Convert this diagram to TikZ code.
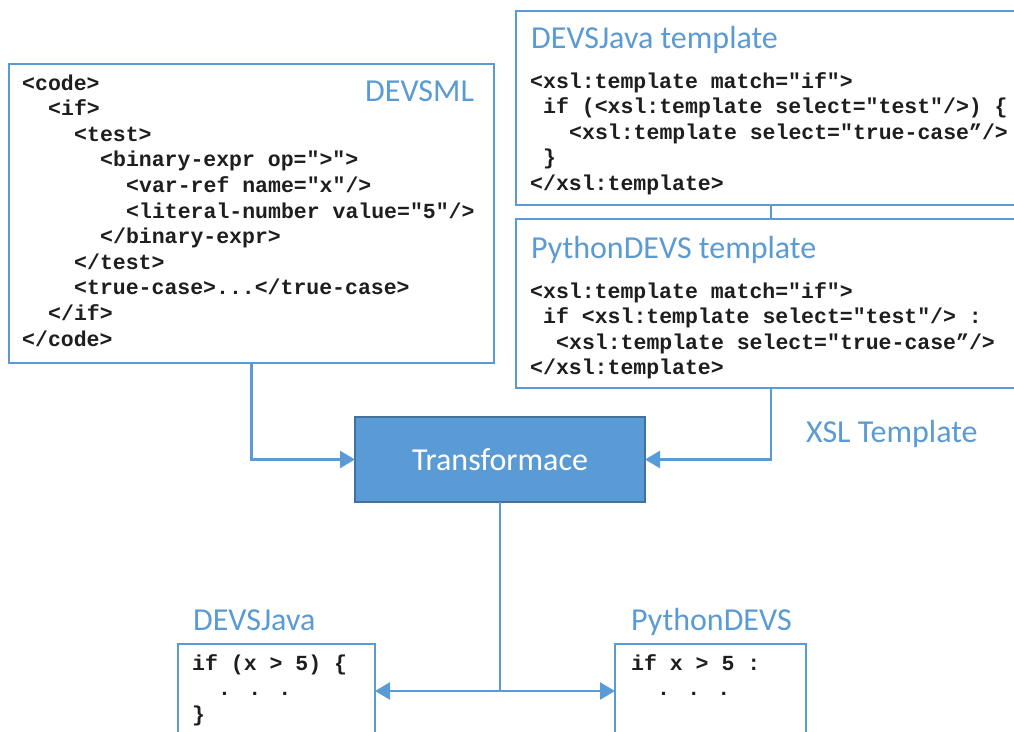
\documentclass[tikz,border=0pt]{standalone}
\usepackage{fontspec}
\usetikzlibrary{arrows.meta,calc}
\newfontfamily\codefnt{Liberation Mono}
\newfontfamily\lblfnt{Carlito}
\definecolor{blueone}{HTML}{5B9BD5}
\definecolor{bluedark}{HTML}{41719C}
\definecolor{codecol}{HTML}{1E1E1E}
\tikzset{
  box/.style={draw=blueone, line width=2.5pt, anchor=north west, inner sep=0pt, outer sep=0pt, fill=white},
  code/.style={font=\codefnt\bfseries\fontsize{21.5}{25.8}\selectfont, text=codecol, anchor=base west, inner sep=0pt},
  lbl/.style={font=\lblfnt\fontsize{32}{36}\selectfont, text=blueone, anchor=base west, inner sep=0pt},
  conn/.style={draw=blueone, line width=2.5pt},
  arr/.style={draw=blueone, line width=2.5pt, -{Triangle[length=15pt,width=17pt]}}
}
\begin{document}
\begin{tikzpicture}[x=1pt,y=-1pt]
\useasboundingbox (0,0) rectangle (1014,731);
\clip (0,0) rectangle (1014,731);
% boxes
\node[box, minimum width=485, minimum height=299] (devsml) at (9,64) {};
\node[box, minimum width=520, minimum height=194] (tj) at (516,11) {};
\node[box, minimum width=520, minimum height=169] (tp) at (516,219) {};
\node[box, draw=bluedark, fill=blueone, minimum width=290, minimum height=85] (tr) at (355,417) {};
\node[font=\lblfnt\fontsize{32}{36}\selectfont, text=white, inner sep=0pt] (trtext) at (tr.center) {Transformace};
\node[box, minimum width=197, minimum height=120] (dj) at (178,644) {};
\node[box, minimum width=191, minimum height=120] (pd) at (615,644) {};
% labels
\node[lbl] (l1) at (365,101) {DEVSML};
\node[lbl] (l2) at (531,48) {DEVSJava template};
\node[lbl] (l3) at (531,258) {PythonDEVS template};
\node[lbl] (l4) at (806,442) {XSL Template};
\node[lbl] (l5) at (193,630) {DEVSJava};
\node[lbl] (l6) at (631,630) {PythonDEVS};
% DEVSML code
\node[code] (m1) at (22,90) {<code>};
\node[code] (m2) at (48,115.6) {<if>};
\node[code] (m3) at (74,141.2) {<test>};
\node[code] (m4) at (100,166.8) {<binary-expr op=">">};
\node[code] (m5) at (126,192.4) {<var-ref name="x"/>};
\node[code] (m6) at (126,218) {<literal-number value="5"/>};
\node[code] (m7) at (100,243.6) {</binary-expr>};
\node[code] (m8) at (74,269.2) {</test>};
\node[code] (m9) at (74,294.8) {<true-case>...</true-case>};
\node[code] (m10) at (48,320.4) {</if>};
\node[code] (m11) at (22,346) {</code>};
% DEVSJava template code
\node[code] (j1) at (530,88) {<xsl:template match="if">};
\node[code] (j2) at (543,113.6) {if (<xsl:template select="test"/>) \{};
\node[code] (j3) at (569,139.2) {<xsl:template select="true-case”/>};
\node[code] (j4) at (543,164.8) {\}};
\node[code] (j5) at (530,190.4) {</xsl:template>};
% PythonDEVS template code
\node[code] (p1) at (530,298) {<xsl:template match="if">};
\node[code] (p2) at (543,323.6) {if <xsl:template select="test"/> :};
\node[code] (p3) at (556,349.2) {<xsl:template select="true-case”/>};
\node[code] (p4) at (530,374.8) {</xsl:template>};
% outputs
\node[code] (o1) at (192,670) {if (x > 5) \{};
\node[code] (o2) at (218,695.6) {. . .};
\node[code] (o3) at (192,721.2) {\}};
\node[code] (q1) at (631,670) {if x > 5 :};
\node[code] (q2) at (657,695.6) {. . .};
% connectors
\coordinate (c1) at (771,205);
\coordinate (j) at (tr.south |- 0,691);
\draw[conn] (tj.south -| c1) -- (tp.north -| c1);
\draw[arr] (tp.south -| c1) |- (tr.east);
\draw[arr] (devsml.south) |- (tr.west);
\draw[conn] (tr.south) -- (j);
\draw[arr] (j) -- (dj.east |- j);
\draw[arr] (j) -- (pd.west |- j);
\end{tikzpicture}
\end{document}
